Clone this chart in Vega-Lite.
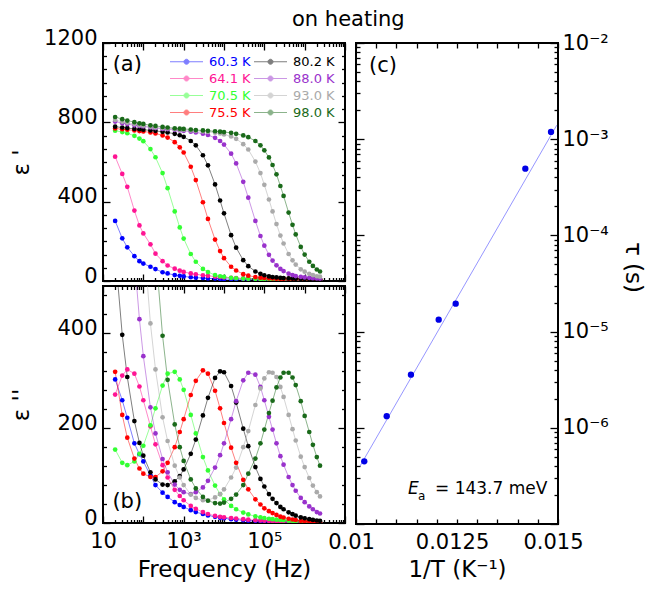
{
"$schema":"https://vega.github.io/schema/vega-lite/v6.json",
"autosize":{"type":"none"},
"padding":{"left":103,"top":43,"right":545,"bottom":547},
"background":"white",
"title":{"text":"on heating","anchor":"start","frame":"group","dx":189,"dy":4,"offset":0,"fontSize":21,"font":"DejaVu Sans","fontWeight":"normal","color":"black"},
"config":{
 "font":"DejaVu Sans",
 "view":{"stroke":"black","strokeWidth":2},
 "axis":{"grid":false,"domain":false,"labelFont":"DejaVu Sans","labelFontSize":21,"labelColor":"black","titleFont":"DejaVu Sans","titleFontSize":23,"titleFontWeight":"normal","titleColor":"black","tickColor":"black","tickWidth":1.3,"labelFlush":false,"labelOverlap":false,"labelBound":false}
},
"datasets":{
"eps":[
{"T":"60.3 K","f":20,"e1":303,"e2":303},{"T":"60.3 K","f":30,"e1":215,"e2":259},{"T":"60.3 K","f":40,"e1":170,"e2":222},{"T":"60.3 K","f":60,"e1":125,"e2":168},{"T":"60.3 K","f":80,"e1":100,"e2":145},{"T":"60.3 K","f":100,"e1":88,"e2":130},{"T":"60.3 K","f":150,"e1":72,"e2":100},{"T":"60.3 K","f":200,"e1":60,"e2":80},{"T":"60.3 K","f":300,"e1":44,"e2":64},{"T":"60.3 K","f":400,"e1":38,"e2":55},{"T":"60.3 K","f":600,"e1":30,"e2":44},{"T":"60.3 K","f":800,"e1":26,"e2":38},{"T":"60.3 K","f":1000,"e1":23,"e2":34},{"T":"60.3 K","f":1500,"e1":19,"e2":27},{"T":"60.3 K","f":2000,"e1":17,"e2":23},{"T":"60.3 K","f":3000,"e1":15,"e2":19},{"T":"60.3 K","f":4000,"e1":13,"e2":16},{"T":"60.3 K","f":6000,"e1":12,"e2":13},{"T":"60.3 K","f":8000,"e1":11,"e2":11},{"T":"60.3 K","f":10000,"e1":10,"e2":10},{"T":"60.3 K","f":15000,"e1":9.5,"e2":8},{"T":"60.3 K","f":20000,"e1":9,"e2":7},{"T":"60.3 K","f":30000,"e1":8.5,"e2":6},{"T":"60.3 K","f":40000,"e1":8,"e2":5},{"T":"60.3 K","f":60000,"e1":7.5,"e2":4.5},{"T":"60.3 K","f":80000,"e1":7.2,"e2":4},{"T":"60.3 K","f":100000,"e1":7,"e2":3.5},{"T":"60.3 K","f":130000,"e1":6.8,"e2":3.2},{"T":"60.3 K","f":160000,"e1":6.6,"e2":3},{"T":"60.3 K","f":200000,"e1":6.4,"e2":2.8},{"T":"60.3 K","f":250000,"e1":6.2,"e2":2.6},{"T":"60.3 K","f":300000,"e1":6,"e2":2.4},{"T":"60.3 K","f":400000,"e1":5.8,"e2":2.2},{"T":"60.3 K","f":500000,"e1":5.6,"e2":2},{"T":"60.3 K","f":600000,"e1":5.5,"e2":1.9},{"T":"60.3 K","f":800000,"e1":5.4,"e2":1.8},{"T":"60.3 K","f":1000000,"e1":5.3,"e2":1.7},{"T":"60.3 K","f":1300000,"e1":5.2,"e2":1.6},{"T":"60.3 K","f":1600000,"e1":5.1,"e2":1.5},{"T":"60.3 K","f":2000000,"e1":5,"e2":1.4},{"T":"60.3 K","f":2400000,"e1":5,"e2":1.3},
{"T":"64.1 K","f":20,"e1":627,"e2":271},{"T":"64.1 K","f":30,"e1":540,"e2":311},{"T":"64.1 K","f":40,"e1":475,"e2":324},{"T":"64.1 K","f":60,"e1":355,"e2":315},{"T":"64.1 K","f":80,"e1":280,"e2":288},{"T":"64.1 K","f":100,"e1":240,"e2":259},{"T":"64.1 K","f":150,"e1":185,"e2":204},{"T":"64.1 K","f":200,"e1":138,"e2":166},{"T":"64.1 K","f":300,"e1":100,"e2":122},{"T":"64.1 K","f":400,"e1":78,"e2":96},{"T":"64.1 K","f":600,"e1":62,"e2":70},{"T":"64.1 K","f":800,"e1":52,"e2":57},{"T":"64.1 K","f":1000,"e1":46,"e2":48},{"T":"64.1 K","f":1500,"e1":38,"e2":36},{"T":"64.1 K","f":2000,"e1":34,"e2":30},{"T":"64.1 K","f":3000,"e1":29,"e2":23},{"T":"64.1 K","f":4000,"e1":26,"e2":19},{"T":"64.1 K","f":6000,"e1":22,"e2":15},{"T":"64.1 K","f":8000,"e1":20,"e2":13},{"T":"64.1 K","f":10000,"e1":18,"e2":12},{"T":"64.1 K","f":15000,"e1":16,"e2":10.5},{"T":"64.1 K","f":20000,"e1":15,"e2":9.5},{"T":"64.1 K","f":30000,"e1":13,"e2":8},{"T":"64.1 K","f":40000,"e1":12,"e2":7},{"T":"64.1 K","f":60000,"e1":11,"e2":6},{"T":"64.1 K","f":80000,"e1":10,"e2":5.5},{"T":"64.1 K","f":100000,"e1":10,"e2":5},{"T":"64.1 K","f":130000,"e1":9,"e2":4.5},{"T":"64.1 K","f":160000,"e1":9,"e2":4},{"T":"64.1 K","f":200000,"e1":9,"e2":3.7},{"T":"64.1 K","f":250000,"e1":8,"e2":3.4},{"T":"64.1 K","f":300000,"e1":8,"e2":3.2},{"T":"64.1 K","f":400000,"e1":8,"e2":2.9},{"T":"64.1 K","f":500000,"e1":8,"e2":2.7},{"T":"64.1 K","f":600000,"e1":7,"e2":2.5},{"T":"64.1 K","f":800000,"e1":7,"e2":2.3},{"T":"64.1 K","f":1000000,"e1":7,"e2":2.1},{"T":"64.1 K","f":1300000,"e1":7,"e2":1.9},{"T":"64.1 K","f":1600000,"e1":6,"e2":1.8},{"T":"64.1 K","f":2000000,"e1":6,"e2":1.7},{"T":"64.1 K","f":2400000,"e1":6,"e2":1.6},
{"T":"70.5 K","f":20,"e1":758,"e2":155},{"T":"70.5 K","f":30,"e1":751,"e2":127},{"T":"70.5 K","f":40,"e1":745,"e2":122},{"T":"70.5 K","f":60,"e1":732,"e2":130},{"T":"70.5 K","f":80,"e1":718,"e2":146},{"T":"70.5 K","f":100,"e1":705,"e2":163},{"T":"70.5 K","f":150,"e1":665,"e2":206},{"T":"70.5 K","f":200,"e1":624,"e2":242},{"T":"70.5 K","f":300,"e1":544,"e2":290},{"T":"70.5 K","f":400,"e1":468,"e2":315},{"T":"70.5 K","f":600,"e1":351,"e2":319},{"T":"70.5 K","f":800,"e1":270,"e2":303},{"T":"70.5 K","f":1000,"e1":214,"e2":281},{"T":"70.5 K","f":1500,"e1":136,"e2":228},{"T":"70.5 K","f":2000,"e1":97,"e2":189},{"T":"70.5 K","f":3000,"e1":61,"e2":139},{"T":"70.5 K","f":4000,"e1":45,"e2":111},{"T":"70.5 K","f":6000,"e1":30,"e2":79},{"T":"70.5 K","f":8000,"e1":24,"e2":61},{"T":"70.5 K","f":10000,"e1":21,"e2":50},{"T":"70.5 K","f":15000,"e1":16,"e2":36},{"T":"70.5 K","f":20000,"e1":14,"e2":29},{"T":"70.5 K","f":30000,"e1":12.4,"e2":22},{"T":"70.5 K","f":40000,"e1":11.6,"e2":18},{"T":"70.5 K","f":60000,"e1":10.8,"e2":14},{"T":"70.5 K","f":80000,"e1":10.4,"e2":12},{"T":"70.5 K","f":100000,"e1":10,"e2":10.5},{"T":"70.5 K","f":130000,"e1":9.7,"e2":9},{"T":"70.5 K","f":160000,"e1":9.5,"e2":8},{"T":"70.5 K","f":200000,"e1":9.3,"e2":7},{"T":"70.5 K","f":250000,"e1":9.2,"e2":6.3},{"T":"70.5 K","f":300000,"e1":9.1,"e2":5.8},{"T":"70.5 K","f":400000,"e1":9,"e2":5},{"T":"70.5 K","f":500000,"e1":8.9,"e2":4.5},{"T":"70.5 K","f":600000,"e1":8.8,"e2":4.2},{"T":"70.5 K","f":800000,"e1":8.7,"e2":3.7},{"T":"70.5 K","f":1000000,"e1":8.6,"e2":3.4},{"T":"70.5 K","f":1300000,"e1":8.5,"e2":3},{"T":"70.5 K","f":1600000,"e1":8.4,"e2":2.8},{"T":"70.5 K","f":2000000,"e1":8.3,"e2":2.5},{"T":"70.5 K","f":2400000,"e1":8.3,"e2":2.3},
{"T":"75.5 K","f":20,"e1":769,"e2":319},{"T":"75.5 K","f":30,"e1":765,"e2":228},{"T":"75.5 K","f":40,"e1":763,"e2":180},{"T":"75.5 K","f":60,"e1":759,"e2":136},{"T":"75.5 K","f":80,"e1":756,"e2":115},{"T":"75.5 K","f":100,"e1":754,"e2":104},{"T":"75.5 K","f":150,"e1":749,"e2":97},{"T":"75.5 K","f":200,"e1":744,"e2":97},{"T":"75.5 K","f":300,"e1":734,"e2":109},{"T":"75.5 K","f":400,"e1":723,"e2":127},{"T":"75.5 K","f":600,"e1":700,"e2":160},{"T":"75.5 K","f":800,"e1":674,"e2":192},{"T":"75.5 K","f":1000,"e1":648,"e2":219},{"T":"75.5 K","f":1500,"e1":576,"e2":270},{"T":"75.5 K","f":2000,"e1":509,"e2":300},{"T":"75.5 K","f":3000,"e1":397,"e2":322},{"T":"75.5 K","f":4000,"e1":313,"e2":315},{"T":"75.5 K","f":6000,"e1":209,"e2":279},{"T":"75.5 K","f":8000,"e1":151,"e2":242},{"T":"75.5 K","f":10000,"e1":115,"e2":211},{"T":"75.5 K","f":15000,"e1":72,"e2":159},{"T":"75.5 K","f":20000,"e1":53,"e2":127},{"T":"75.5 K","f":30000,"e1":34.5,"e2":91},{"T":"75.5 K","f":40000,"e1":27,"e2":71},{"T":"75.5 K","f":60000,"e1":20,"e2":50},{"T":"75.5 K","f":80000,"e1":17,"e2":39},{"T":"75.5 K","f":100000,"e1":15,"e2":31},{"T":"75.5 K","f":130000,"e1":13.5,"e2":25},{"T":"75.5 K","f":160000,"e1":12.6,"e2":21},{"T":"75.5 K","f":200000,"e1":11.8,"e2":17},{"T":"75.5 K","f":250000,"e1":11.2,"e2":13.4},{"T":"75.5 K","f":300000,"e1":10.8,"e2":11.6},{"T":"75.5 K","f":400000,"e1":10.4,"e2":9},{"T":"75.5 K","f":500000,"e1":10,"e2":7.4},{"T":"75.5 K","f":600000,"e1":9.8,"e2":6.3},{"T":"75.5 K","f":800000,"e1":9.6,"e2":4.9},{"T":"75.5 K","f":1000000,"e1":9.4,"e2":3.9},{"T":"75.5 K","f":1300000,"e1":9.2,"e2":3.2},{"T":"75.5 K","f":1600000,"e1":9.1,"e2":2.6},{"T":"75.5 K","f":2000000,"e1":9,"e2":2.1},{"T":"75.5 K","f":2400000,"e1":9,"e2":1.8},
{"T":"80.2 K","f":20,"e1":778,"e2":574},{"T":"80.2 K","f":30,"e1":774,"e2":397},{"T":"80.2 K","f":40,"e1":771,"e2":308},{"T":"80.2 K","f":60,"e1":767,"e2":215},{"T":"80.2 K","f":80,"e1":765,"e2":169},{"T":"80.2 K","f":100,"e1":763,"e2":142},{"T":"80.2 K","f":150,"e1":759,"e2":107},{"T":"80.2 K","f":200,"e1":757,"e2":92},{"T":"80.2 K","f":300,"e1":752,"e2":81},{"T":"80.2 K","f":400,"e1":749,"e2":80},{"T":"80.2 K","f":600,"e1":742,"e2":88},{"T":"80.2 K","f":800,"e1":735,"e2":99},{"T":"80.2 K","f":1000,"e1":727,"e2":113},{"T":"80.2 K","f":1500,"e1":706,"e2":146},{"T":"80.2 K","f":2000,"e1":684,"e2":176},{"T":"80.2 K","f":3000,"e1":634,"e2":227},{"T":"80.2 K","f":4000,"e1":583,"e2":264},{"T":"80.2 K","f":6000,"e1":487,"e2":306},{"T":"80.2 K","f":8000,"e1":406,"e2":320},{"T":"80.2 K","f":10000,"e1":341,"e2":318},{"T":"80.2 K","f":15000,"e1":231,"e2":289},{"T":"80.2 K","f":20000,"e1":168,"e2":254},{"T":"80.2 K","f":30000,"e1":105,"e2":199},{"T":"80.2 K","f":40000,"e1":75,"e2":162},{"T":"80.2 K","f":60000,"e1":48,"e2":118},{"T":"80.2 K","f":80000,"e1":36,"e2":93},{"T":"80.2 K","f":100000,"e1":29,"e2":77},{"T":"80.2 K","f":130000,"e1":23,"e2":61},{"T":"80.2 K","f":160000,"e1":20,"e2":51},{"T":"80.2 K","f":200000,"e1":18,"e2":42},{"T":"80.2 K","f":250000,"e1":16,"e2":34},{"T":"80.2 K","f":300000,"e1":14.5,"e2":29},{"T":"80.2 K","f":400000,"e1":13,"e2":22.5},{"T":"80.2 K","f":500000,"e1":12,"e2":18.6},{"T":"80.2 K","f":600000,"e1":11.5,"e2":15.5},{"T":"80.2 K","f":800000,"e1":11,"e2":12},{"T":"80.2 K","f":1000000,"e1":10.5,"e2":10},{"T":"80.2 K","f":1300000,"e1":10,"e2":8},{"T":"80.2 K","f":1600000,"e1":10,"e2":6.4},{"T":"80.2 K","f":2000000,"e1":9.5,"e2":5.3},{"T":"80.2 K","f":2400000,"e1":9.5,"e2":4.5},
{"T":"88.0 K","f":20,"e1":804,"e2":1535},{"T":"88.0 K","f":30,"e1":796,"e2":1057},{"T":"88.0 K","f":40,"e1":791,"e2":812},{"T":"88.0 K","f":60,"e1":785,"e2":559},{"T":"88.0 K","f":80,"e1":782,"e2":430},{"T":"88.0 K","f":100,"e1":779,"e2":352},{"T":"88.0 K","f":150,"e1":774,"e2":244},{"T":"88.0 K","f":200,"e1":771,"e2":189},{"T":"88.0 K","f":300,"e1":767,"e2":135},{"T":"88.0 K","f":400,"e1":765,"e2":107},{"T":"88.0 K","f":600,"e1":762,"e2":81},{"T":"88.0 K","f":800,"e1":759,"e2":70},{"T":"88.0 K","f":1000,"e1":757,"e2":65},{"T":"88.0 K","f":1500,"e1":753,"e2":61},{"T":"88.0 K","f":2000,"e1":749,"e2":65},{"T":"88.0 K","f":3000,"e1":743,"e2":75},{"T":"88.0 K","f":4000,"e1":736,"e2":89},{"T":"88.0 K","f":6000,"e1":722,"e2":117},{"T":"88.0 K","f":8000,"e1":706,"e2":143},{"T":"88.0 K","f":10000,"e1":688,"e2":168},{"T":"88.0 K","f":15000,"e1":642,"e2":219},{"T":"88.0 K","f":20000,"e1":593,"e2":257},{"T":"88.0 K","f":30000,"e1":500,"e2":301},{"T":"88.0 K","f":40000,"e1":420,"e2":317},{"T":"88.0 K","f":60000,"e1":303,"e2":313},{"T":"88.0 K","f":80000,"e1":227,"e2":287},{"T":"88.0 K","f":100000,"e1":178,"e2":259},{"T":"88.0 K","f":130000,"e1":132,"e2":224},{"T":"88.0 K","f":160000,"e1":103,"e2":197},{"T":"88.0 K","f":200000,"e1":79,"e2":168},{"T":"88.0 K","f":250000,"e1":61,"e2":141},{"T":"88.0 K","f":300000,"e1":50,"e2":123},{"T":"88.0 K","f":400000,"e1":37,"e2":97},{"T":"88.0 K","f":500000,"e1":30,"e2":80},{"T":"88.0 K","f":600000,"e1":25,"e2":68},{"T":"88.0 K","f":800000,"e1":21,"e2":53},{"T":"88.0 K","f":1000000,"e1":18,"e2":44},{"T":"88.0 K","f":1300000,"e1":16,"e2":35},{"T":"88.0 K","f":1600000,"e1":14,"e2":29},{"T":"88.0 K","f":2000000,"e1":13,"e2":23},{"T":"88.0 K","f":2400000,"e1":12,"e2":20},
{"T":"93.0 K","f":20,"e1":812,"e2":2738},{"T":"93.0 K","f":30,"e1":803,"e2":1878},{"T":"93.0 K","f":40,"e1":798,"e2":1437},{"T":"93.0 K","f":60,"e1":791,"e2":986},{"T":"93.0 K","f":80,"e1":786,"e2":755},{"T":"93.0 K","f":100,"e1":783,"e2":614},{"T":"93.0 K","f":150,"e1":778,"e2":421},{"T":"93.0 K","f":200,"e1":775,"e2":324},{"T":"93.0 K","f":300,"e1":771,"e2":223},{"T":"93.0 K","f":400,"e1":769,"e2":173},{"T":"93.0 K","f":600,"e1":766,"e2":121},{"T":"93.0 K","f":800,"e1":763,"e2":96},{"T":"93.0 K","f":1000,"e1":762,"e2":80},{"T":"93.0 K","f":1500,"e1":759,"e2":60},{"T":"93.0 K","f":2000,"e1":757,"e2":53},{"T":"93.0 K","f":3000,"e1":754,"e2":48},{"T":"93.0 K","f":4000,"e1":752,"e2":48},{"T":"93.0 K","f":6000,"e1":748,"e2":54},{"T":"93.0 K","f":8000,"e1":744,"e2":61},{"T":"93.0 K","f":10000,"e1":739,"e2":71},{"T":"93.0 K","f":15000,"e1":729,"e2":96},{"T":"93.0 K","f":20000,"e1":717,"e2":117},{"T":"93.0 K","f":30000,"e1":690,"e2":160},{"T":"93.0 K","f":40000,"e1":663,"e2":194},{"T":"93.0 K","f":60000,"e1":602,"e2":249},{"T":"93.0 K","f":80000,"e1":544,"e2":284},{"T":"93.0 K","f":100000,"e1":485,"e2":305},{"T":"93.0 K","f":130000,"e1":411,"e2":318},{"T":"93.0 K","f":160000,"e1":351,"e2":317},{"T":"93.0 K","f":200000,"e1":287,"e2":308},{"T":"93.0 K","f":250000,"e1":229,"e2":287},{"T":"93.0 K","f":300000,"e1":189,"e2":266},{"T":"93.0 K","f":400000,"e1":136,"e2":228},{"T":"93.0 K","f":500000,"e1":104,"e2":198},{"T":"93.0 K","f":600000,"e1":83,"e2":174},{"T":"93.0 K","f":800000,"e1":59,"e2":140},{"T":"93.0 K","f":1000000,"e1":47,"e2":118},{"T":"93.0 K","f":1300000,"e1":36,"e2":95},{"T":"93.0 K","f":1600000,"e1":30,"e2":79},{"T":"93.0 K","f":2000000,"e1":24,"e2":65},{"T":"93.0 K","f":2400000,"e1":22,"e2":56},
{"T":"98.0 K","f":20,"e1":827,"e2":5025},{"T":"98.0 K","f":30,"e1":816,"e2":3435},{"T":"98.0 K","f":40,"e1":809,"e2":2618},{"T":"98.0 K","f":60,"e1":801,"e2":1790},{"T":"98.0 K","f":80,"e1":795,"e2":1365},{"T":"98.0 K","f":100,"e1":792,"e2":1107},{"T":"98.0 K","f":150,"e1":785,"e2":756},{"T":"98.0 K","f":200,"e1":782,"e2":577},{"T":"98.0 K","f":300,"e1":777,"e2":395},{"T":"98.0 K","f":400,"e1":774,"e2":302},{"T":"98.0 K","f":600,"e1":770,"e2":208},{"T":"98.0 K","f":800,"e1":768,"e2":160},{"T":"98.0 K","f":1000,"e1":767,"e2":131},{"T":"98.0 K","f":1500,"e1":764,"e2":92},{"T":"98.0 K","f":2000,"e1":761,"e2":73},{"T":"98.0 K","f":3000,"e1":759,"e2":55},{"T":"98.0 K","f":4000,"e1":757,"e2":47},{"T":"98.0 K","f":6000,"e1":755,"e2":42},{"T":"98.0 K","f":8000,"e1":753,"e2":41},{"T":"98.0 K","f":10000,"e1":751,"e2":43},{"T":"98.0 K","f":15000,"e1":747,"e2":51},{"T":"98.0 K","f":20000,"e1":742,"e2":60},{"T":"98.0 K","f":30000,"e1":734,"e2":80},{"T":"98.0 K","f":40000,"e1":725,"e2":104},{"T":"98.0 K","f":60000,"e1":706,"e2":136},{"T":"98.0 K","f":80000,"e1":684,"e2":168},{"T":"98.0 K","f":100000,"e1":659,"e2":197},{"T":"98.0 K","f":130000,"e1":623,"e2":232},{"T":"98.0 K","f":160000,"e1":585,"e2":258},{"T":"98.0 K","f":200000,"e1":538,"e2":286},{"T":"98.0 K","f":250000,"e1":479,"e2":307},{"T":"98.0 K","f":300000,"e1":429,"e2":317},{"T":"98.0 K","f":400000,"e1":345,"e2":317},{"T":"98.0 K","f":500000,"e1":283,"e2":307},{"T":"98.0 K","f":600000,"e1":235,"e2":291},{"T":"98.0 K","f":800000,"e1":172,"e2":257},{"T":"98.0 K","f":1000000,"e1":133,"e2":226},{"T":"98.0 K","f":1300000,"e1":97,"e2":192},{"T":"98.0 K","f":1600000,"e1":76,"e2":165},{"T":"98.0 K","f":2000000,"e1":58,"e2":139},{"T":"98.0 K","f":2400000,"e1":48,"e2":121}
]
},
"spacing":253,
"bounds":"flush",
"hconcat":[
{"spacing":5,"bounds":"flush","vconcat":[
{"width":242,"height":238,
 "resolve":{"axis":{"x":"independent","y":"independent"}},
 "layer":[
  {"data":{"name":"eps"},"mark":{"type":"line","strokeWidth":1,"opacity":0.5,"clip":true},
   "encoding":{
    "x":{"field":"f","type":"quantitative","scale":{"type":"log","domain":[10,10000000],"nice":false},"axis":{"orient":"bottom","values":[10,100,1000,10000,100000,1000000,10000000],"tickSize":-7,"labels":false,"title":null}},
    "y":{"field":"e1","type":"quantitative","scale":{"domain":[0,1200],"nice":false},"axis":{"orient":"left","values":[0,400,800,1200],"format":"d","tickSize":-7,"labelPadding":13,"labelOffset":-5,"title":"ε '","titleAngle":270,"titleBaseline":"bottom","titleX":-70}},
    "color":{"field":"T","type":"nominal","scale":{"domain":["60.3 K","64.1 K","70.5 K","75.5 K","80.2 K","88.0 K","93.0 K","98.0 K"],"range":["#0000ff","#ff1493","#33ff33","#ff0000","#000000","#9932cc","#aaaaaa","#1a6a1a"]},
     "legend":{"orient":"none","legendX":77,"legendY":12,"columns":2,"title":null,"padding":0,"symbolType":"M-3.3,0H3.3M0.5,0A0.5,0.5,0,1,1,-0.5,0A0.5,0.5,0,1,1,0.5,0Z","symbolSize":100,"symbolStrokeWidth":1,"symbolOpacity":1,"labelFont":"DejaVu Sans","labelFontSize":13,"labelOffset":16,"rowPadding":3,"columnPadding":1,
      "labelColor":{"expr":"['#0000ff','#ff1493','#33ff33','#ff0000','#000000','#9932cc','#aaaaaa','#1a6a1a'][indexof(['60.3 K','64.1 K','70.5 K','75.5 K','80.2 K','88.0 K','93.0 K','98.0 K'], datum.value)]"}}}}},
  {"data":{"name":"eps"},"mark":{"type":"circle","size":22,"opacity":1,"clip":true},
   "encoding":{
    "x":{"field":"f","type":"quantitative","scale":{"type":"log","domain":[10,10000000],"nice":false},"axis":null},
    "y":{"field":"e1","type":"quantitative","scale":{"domain":[0,1200],"nice":false},"axis":null},
    "color":{"field":"T","type":"nominal","scale":{"domain":["60.3 K","64.1 K","70.5 K","75.5 K","80.2 K","88.0 K","93.0 K","98.0 K"],"range":["#0000ff","#ff1493","#33ff33","#ff0000","#000000","#9932cc","#aaaaaa","#1a6a1a"]},
     "legend":{"orient":"none","legendX":77,"legendY":12,"columns":2,"title":null,"padding":0,"symbolType":"M-3.3,0H3.3M0.5,0A0.5,0.5,0,1,1,-0.5,0A0.5,0.5,0,1,1,0.5,0Z","symbolSize":100,"symbolStrokeWidth":1,"symbolOpacity":1,"labelFont":"DejaVu Sans","labelFontSize":13,"labelOffset":16,"rowPadding":3,"columnPadding":1,
      "labelColor":{"expr":"['#0000ff','#ff1493','#33ff33','#ff0000','#000000','#9932cc','#aaaaaa','#1a6a1a'][indexof(['60.3 K','64.1 K','70.5 K','75.5 K','80.2 K','88.0 K','93.0 K','98.0 K'], datum.value)]"}}}}},
  {"data":{"values":[{"f":40,"e1":1090,"txt":"(a)"}]},"mark":{"type":"text","fontSize":21,"font":"DejaVu Sans","align":"center","baseline":"middle","fill":"black"},
   "encoding":{
    "x":{"field":"f","type":"quantitative","scale":{"type":"log","domain":[10,10000000],"nice":false},"axis":null},
    "y":{"field":"e1","type":"quantitative","scale":{"domain":[0,1200],"nice":false},"axis":null},
    "text":{"field":"txt"}}},
  {"data":{"values":[{"f":100,"e1":100}]},"mark":{"type":"point","opacity":0},
   "encoding":{
    "x":{"field":"f","type":"quantitative","scale":{"type":"log","domain":[10,10000000],"nice":false},"axis":{"orient":"top","values":[10,100,1000,10000,100000,1000000,10000000],"tickSize":-7,"labels":false,"title":null}},
    "y":{"field":"e1","type":"quantitative","scale":{"domain":[0,1200],"nice":false},"axis":{"orient":"right","values":[0,400,800,1200],"tickSize":-7,"labels":false,"title":null}}}},
  {"data":{"values":[{"f":100,"e1":100}]},"mark":{"type":"point","opacity":0},
   "encoding":{
    "x":{"field":"f","type":"quantitative","scale":{"type":"log","domain":[10,10000000],"nice":false},"axis":{"orient":"bottom","values":[20,30,40,50,60,70,80,90,200,300,400,500,600,700,800,900,2000,3000,4000,5000,6000,7000,8000,9000,20000,30000,40000,50000,60000,70000,80000,90000,200000,300000,400000,500000,600000,700000,800000,900000,2000000,3000000,4000000,5000000,6000000,7000000,8000000,9000000],"tickSize":-3.5,"labels":false,"title":null}},
    "y":{"field":"e1","type":"quantitative","scale":{"domain":[0,1200],"nice":false},"axis":{"orient":"left","values":[66.67,133.33,200,266.67,333.33,466.67,533.33,600,666.67,733.33,866.67,933.33,1000,1066.67,1133.33],"tickSize":-3.5,"labels":false,"title":null}}}},
  {"data":{"values":[{"f":100,"e1":100}]},"mark":{"type":"point","opacity":0},
   "encoding":{
    "x":{"field":"f","type":"quantitative","scale":{"type":"log","domain":[10,10000000],"nice":false},"axis":{"orient":"top","values":[20,30,40,50,60,70,80,90,200,300,400,500,600,700,800,900,2000,3000,4000,5000,6000,7000,8000,9000,20000,30000,40000,50000,60000,70000,80000,90000,200000,300000,400000,500000,600000,700000,800000,900000,2000000,3000000,4000000,5000000,6000000,7000000,8000000,9000000],"tickSize":-3.5,"labels":false,"title":null}},
    "y":{"field":"e1","type":"quantitative","scale":{"domain":[0,1200],"nice":false},"axis":{"orient":"right","values":[66.67,133.33,200,266.67,333.33,466.67,533.33,600,666.67,733.33,866.67,933.33,1000,1066.67,1133.33],"tickSize":-3.5,"labels":false,"title":null}}}}
 ]},
{"width":242,"height":237,
 "resolve":{"axis":{"x":"independent","y":"independent"}},
 "layer":[
  {"data":{"name":"eps"},"mark":{"type":"line","strokeWidth":1,"opacity":0.5,"clip":true},
   "encoding":{
    "x":{"field":"f","type":"quantitative","scale":{"type":"log","domain":[10,10000000],"nice":false},"axis":{"orient":"bottom","values":[10,100,1000,10000,100000,1000000,10000000],"tickSize":-7,"labelPadding":14,"labelExpr":"datum.value == 10 ? '10' : datum.value == 1000 ? '10³' : datum.value == 100000 ? '10⁵' : ''","title":"Frequency (Hz)","titleBaseline":"alphabetic","titleY":53}},
    "y":{"field":"e2","type":"quantitative","scale":{"domain":[0,500],"nice":false},"axis":{"orient":"left","values":[0,200,400],"format":"d","tickSize":-7,"labelPadding":13,"labelOffset":-5,"title":"ε ''","titleAngle":270,"titleBaseline":"bottom","titleX":-70}},
    "color":{"field":"T","type":"nominal","scale":{"domain":["60.3 K","64.1 K","70.5 K","75.5 K","80.2 K","88.0 K","93.0 K","98.0 K"],"range":["#0000ff","#ff1493","#33ff33","#ff0000","#000000","#9932cc","#aaaaaa","#1a6a1a"]}}}},
  {"data":{"name":"eps"},"mark":{"type":"circle","size":22,"opacity":1,"clip":true},
   "encoding":{
    "x":{"field":"f","type":"quantitative","scale":{"type":"log","domain":[10,10000000],"nice":false},"axis":null},
    "y":{"field":"e2","type":"quantitative","scale":{"domain":[0,500],"nice":false},"axis":null},
    "color":{"field":"T","type":"nominal","scale":{"domain":["60.3 K","64.1 K","70.5 K","75.5 K","80.2 K","88.0 K","93.0 K","98.0 K"],"range":["#0000ff","#ff1493","#33ff33","#ff0000","#000000","#9932cc","#aaaaaa","#1a6a1a"]}}}},
  {"data":{"values":[{"f":40,"e2":44,"txt":"(b)"}]},"mark":{"type":"text","fontSize":21,"font":"DejaVu Sans","align":"center","baseline":"middle","fill":"black"},
   "encoding":{
    "x":{"field":"f","type":"quantitative","scale":{"type":"log","domain":[10,10000000],"nice":false},"axis":null},
    "y":{"field":"e2","type":"quantitative","scale":{"domain":[0,500],"nice":false},"axis":null},
    "text":{"field":"txt"}}},
  {"data":{"values":[{"f":100,"e2":100}]},"mark":{"type":"point","opacity":0},
   "encoding":{
    "x":{"field":"f","type":"quantitative","scale":{"type":"log","domain":[10,10000000],"nice":false},"axis":{"orient":"top","values":[10,100,1000,10000,100000,1000000,10000000],"tickSize":-7,"labels":false,"title":null}},
    "y":{"field":"e2","type":"quantitative","scale":{"domain":[0,500],"nice":false},"axis":{"orient":"right","values":[0,200,400],"tickSize":-7,"labels":false,"title":null}}}},
  {"data":{"values":[{"f":100,"e2":100}]},"mark":{"type":"point","opacity":0},
   "encoding":{
    "x":{"field":"f","type":"quantitative","scale":{"type":"log","domain":[10,10000000],"nice":false},"axis":{"orient":"bottom","values":[20,30,40,50,60,70,80,90,200,300,400,500,600,700,800,900,2000,3000,4000,5000,6000,7000,8000,9000,20000,30000,40000,50000,60000,70000,80000,90000,200000,300000,400000,500000,600000,700000,800000,900000,2000000,3000000,4000000,5000000,6000000,7000000,8000000,9000000],"tickSize":-3.5,"labels":false,"title":null}},
    "y":{"field":"e2","type":"quantitative","scale":{"domain":[0,500],"nice":false},"axis":{"orient":"left","values":[40,80,120,160,240,280,320,360,440,480],"tickSize":-3.5,"labels":false,"title":null}}}},
  {"data":{"values":[{"f":100,"e2":100}]},"mark":{"type":"point","opacity":0},
   "encoding":{
    "x":{"field":"f","type":"quantitative","scale":{"type":"log","domain":[10,10000000],"nice":false},"axis":{"orient":"top","values":[20,30,40,50,60,70,80,90,200,300,400,500,600,700,800,900,2000,3000,4000,5000,6000,7000,8000,9000,20000,30000,40000,50000,60000,70000,80000,90000,200000,300000,400000,500000,600000,700000,800000,900000,2000000,3000000,4000000,5000000,6000000,7000000,8000000,9000000],"tickSize":-3.5,"labels":false,"title":null}},
    "y":{"field":"e2","type":"quantitative","scale":{"domain":[0,500],"nice":false},"axis":{"orient":"right","values":[40,80,120,160,240,280,320,360,440,480],"tickSize":-3.5,"labels":false,"title":null}}}}
 ]}
]},
{"width":202,"height":481,
 "resolve":{"axis":{"x":"independent","y":"independent"}},
 "layer":[
  {"data":{"values":[{"x":0.0101,"tau":4.0e-7},{"x":0.01497,"tau":1.4e-3}]},"mark":{"type":"line","strokeWidth":0.8,"color":"#7b7bff","clip":true},
   "encoding":{
    "x":{"field":"x","type":"quantitative","scale":{"domain":[0.01,0.015],"nice":false,"zero":false},"axis":{"orient":"bottom","values":[0.01,0.0105,0.011,0.0115,0.012,0.0125,0.013,0.0135,0.014,0.0145,0.015],"tickSize":-5,"labelPadding":12,"labelOffset":-5,"labelExpr":"abs(datum.value-0.01)<1e-7 ? '0.01' : abs(datum.value-0.0125)<1e-7 ? '0.0125' : abs(datum.value-0.015)<1e-7 ? '0.015' : ''","title":"1/T (K⁻¹)","titleBaseline":"alphabetic","titleY":52}},
    "y":{"field":"tau","type":"quantitative","scale":{"type":"log","domain":[1e-7,0.01],"nice":false},"axis":{"orient":"right","values":[1e-7,1e-6,1e-5,1e-4,1e-3,1e-2],"tickSize":-8,"labelPadding":12,"labelExpr":"datum.value < 5e-7 ? '' : '10⁻' + ['0','¹','²','³','⁴','⁵','⁶','⁷'][round(-log(datum.value)/LN10)]","title":"τ  (s)","titleAngle":90,"titleBaseline":"bottom","titleX":62,"titleY":224}}}},
  {"data":{"values":[{"x":0.010205,"tau":4.48e-7},{"x":0.01076,"tau":1.32e-6},{"x":0.01136,"tau":3.57e-6},{"x":0.012047,"tau":1.33e-5},{"x":0.012468,"tau":1.95e-5},{"x":0.014191,"tau":4.94e-4},{"x":0.014827,"tau":1.19e-3}]},"mark":{"type":"circle","size":40,"color":"#0000e6","opacity":1},
   "encoding":{
    "x":{"field":"x","type":"quantitative","scale":{"domain":[0.01,0.015],"nice":false,"zero":false},"axis":null},
    "y":{"field":"tau","type":"quantitative","scale":{"type":"log","domain":[1e-7,0.01],"nice":false},"axis":null}}},
  {"data":{"values":[{"x":0.010668,"tau":5.77e-3,"txt":"(c)"}]},"mark":{"type":"text","fontSize":21,"font":"DejaVu Sans","align":"center","baseline":"middle","fill":"black"},
   "encoding":{
    "x":{"field":"x","type":"quantitative","scale":{"domain":[0.01,0.015],"nice":false,"zero":false},"axis":null},
    "y":{"field":"tau","type":"quantitative","scale":{"type":"log","domain":[1e-7,0.01],"nice":false},"axis":null},
    "text":{"field":"txt"}}},
  {"data":{"values":[{"x":0.011287,"tau":2.07e-7,"txt":"E"}]},"mark":{"type":"text","fontSize":17,"font":"DejaVu Sans","fontStyle":"italic","align":"left","baseline":"alphabetic","fill":"black"},
   "encoding":{
    "x":{"field":"x","type":"quantitative","scale":{"domain":[0.01,0.015],"nice":false,"zero":false},"axis":null},
    "y":{"field":"tau","type":"quantitative","scale":{"type":"log","domain":[1e-7,0.01],"nice":false},"axis":null},
    "text":{"field":"txt"}}},
  {"data":{"values":[{"x":0.011535,"tau":1.77e-7,"txt":"a"}]},"mark":{"type":"text","fontSize":12,"font":"DejaVu Sans","align":"left","baseline":"alphabetic","fill":"black"},
   "encoding":{
    "x":{"field":"x","type":"quantitative","scale":{"domain":[0.01,0.015],"nice":false,"zero":false},"axis":null},
    "y":{"field":"tau","type":"quantitative","scale":{"type":"log","domain":[1e-7,0.01],"nice":false},"axis":null},
    "text":{"field":"txt"}}},
  {"data":{"values":[{"x":0.011955,"tau":2.07e-7,"txt":"= 143.7 meV"}]},"mark":{"type":"text","fontSize":17,"font":"DejaVu Sans","align":"left","baseline":"alphabetic","fill":"black"},
   "encoding":{
    "x":{"field":"x","type":"quantitative","scale":{"domain":[0.01,0.015],"nice":false,"zero":false},"axis":null},
    "y":{"field":"tau","type":"quantitative","scale":{"type":"log","domain":[1e-7,0.01],"nice":false},"axis":null},
    "text":{"field":"txt"}}},
  {"data":{"values":[{"x":0.012,"tau":1e-4}]},"mark":{"type":"point","opacity":0},
   "encoding":{
    "x":{"field":"x","type":"quantitative","scale":{"domain":[0.01,0.015],"nice":false,"zero":false},"axis":{"orient":"top","values":[0.01,0.0105,0.011,0.0115,0.012,0.0125,0.013,0.0135,0.014,0.0145,0.015],"tickSize":-5,"labels":false,"title":null}},
    "y":{"field":"tau","type":"quantitative","scale":{"type":"log","domain":[1e-7,0.01],"nice":false},"axis":{"orient":"left","values":[1e-7,1e-6,1e-5,1e-4,1e-3,1e-2],"tickSize":-8,"labels":false,"title":null}}}},
  {"data":{"values":[{"x":0.012,"tau":1e-4}]},"mark":{"type":"point","opacity":0},
   "encoding":{
    "x":{"field":"x","type":"quantitative","scale":{"domain":[0.01,0.015],"nice":false,"zero":false},"axis":null},
    "y":{"field":"tau","type":"quantitative","scale":{"type":"log","domain":[1e-7,0.01],"nice":false},"axis":{"orient":"left","values":[2e-7,3e-7,4e-7,5e-7,6e-7,7e-7,8e-7,9e-7,2e-6,3e-6,4e-6,5e-6,6e-6,7e-6,8e-6,9e-6,2e-5,3e-5,4e-5,5e-5,6e-5,7e-5,8e-5,9e-5,2e-4,3e-4,4e-4,5e-4,6e-4,7e-4,8e-4,9e-4,2e-3,3e-3,4e-3,5e-3,6e-3,7e-3,8e-3,9e-3],"tickSize":-4,"labels":false,"title":null}}}},
  {"data":{"values":[{"x":0.012,"tau":1e-4}]},"mark":{"type":"point","opacity":0},
   "encoding":{
    "x":{"field":"x","type":"quantitative","scale":{"domain":[0.01,0.015],"nice":false,"zero":false},"axis":null},
    "y":{"field":"tau","type":"quantitative","scale":{"type":"log","domain":[1e-7,0.01],"nice":false},"axis":{"orient":"right","values":[2e-7,3e-7,4e-7,5e-7,6e-7,7e-7,8e-7,9e-7,2e-6,3e-6,4e-6,5e-6,6e-6,7e-6,8e-6,9e-6,2e-5,3e-5,4e-5,5e-5,6e-5,7e-5,8e-5,9e-5,2e-4,3e-4,4e-4,5e-4,6e-4,7e-4,8e-4,9e-4,2e-3,3e-3,4e-3,5e-3,6e-3,7e-3,8e-3,9e-3],"tickSize":-4,"labels":false,"title":null}}}}
 ]}
]
}
